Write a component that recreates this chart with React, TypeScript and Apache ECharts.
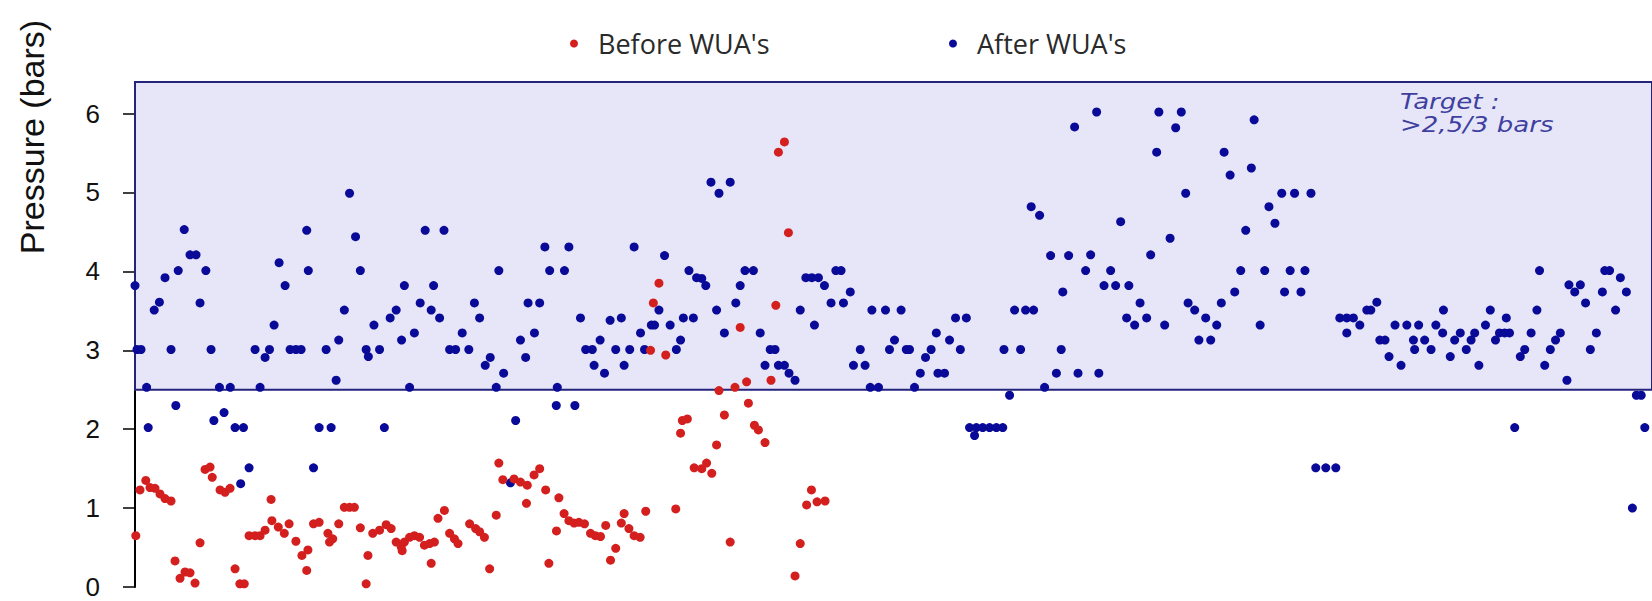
import React, { useEffect, useRef } from "react";
import * as echarts from "echarts";

const seriesNames = ["Before WUA's", "After WUA's"];
const yTicks = [0, 1, 2, 3, 4, 5, 6];
const targetRange = [2.5, 6.4];
const sampleRange = [0, 379];
const targetText = "Target :\n>2,5/3 bars";
const axisTitle = "Pressure (bars)";

// [sample index, pressure in bars]
const beforeWUA: number[][] = [
  [0.2, 0.65], [1.25, 1.23], [2.7, 1.35], [3.75, 1.26], [5, 1.25], [6.25, 1.18], [7.5, 1.12], [9, 1.09],
  [10, 0.33], [11.25, 0.11], [12.5, 0.19], [13.75, 0.18], [15, 0.05], [16.25, 0.56], [17.5, 1.49], [18.75, 1.52],
  [19.3, 1.39], [21.25, 1.23], [22.5, 1.2], [23.75, 1.25], [25, 0.23], [26.2, 0.04], [27.3, 0.04], [28.5, 0.65],
  [30, 0.65], [31.25, 0.65], [32.5, 0.72], [34, 1.11], [34.2, 0.84], [35.8, 0.76], [37.3, 0.68], [38.5, 0.8],
  [40.2, 0.58], [41.7, 0.4], [43.2, 0.47], [42.9, 0.21], [44.6, 0.8],
  [46, 0.82], [48.2, 0.68], [49.4, 0.61], [48.6, 0.57], [50.9, 0.8], [52.3, 1.01], [53.6, 1.01], [54.8, 1.01],
  [56.3, 0.75], [57.75, 0.04], [58.2, 0.4], [59.4, 0.68], [61.1, 0.72], [62.75, 0.79], [64, 0.74], [65.25, 0.57],
  [66.5, 0.51], [66.75, 0.46], [67.3, 0.57], [68.6, 0.63], [69.8, 0.65], [71.1, 0.63], [72.3, 0.53], [73.6, 0.55],
  [74.8, 0.57], [74, 0.3], [75.7, 0.87], [77.3, 0.97], [78.6, 0.68], [79.8, 0.61], [80.7, 0.55], [83.6, 0.8],
  [85.1, 0.74], [86.1, 0.7], [87.3, 0.63], [88.6, 0.23], [90.25, 0.91], [90.9, 1.57], [91.9, 1.36],
  [94.7, 1.37], [96.3, 1.33], [98, 1.29], [99.7, 1.42], [101.1, 1.5], [97.8, 1.06], [102.6, 1.23], [105.9, 1.13],
  [107.2, 0.93], [108.4, 0.84], [109.7, 0.81], [110.9, 0.82], [112.3, 0.8], [105.3, 0.71], [103.4, 0.3],
  [113.8, 0.68], [115, 0.65], [116.3, 0.64], [117.6, 0.78], [118.8, 0.34], [120.1, 0.49], [121.5, 0.81],
  [122.2, 0.93], [123.4, 0.74], [124.7, 0.65], [126.2, 0.63], [127.6, 0.96], [135.1, 0.99], [129.5, 3.6],
  [130.9, 3.85], [128.8, 3.0], [132.6, 2.94], [136.3, 1.95], [136.75, 2.11], [138, 2.13], [139.7, 1.51],
  [141.6, 1.5], [142.8, 1.57], [144.1, 1.44], [160.75, 5.51], [162.25, 5.64], [163.25, 4.49], [160.1, 3.57],
  [151.2, 3.29], [158.9, 2.62], [145.9, 2.49], [149.9, 2.53], [152.8, 2.6], [153.25, 2.33], [147.25, 2.18],
  [154.75, 2.05], [155.75, 1.99], [157.4, 1.83], [145.3, 1.8], [169, 1.23], [167.8, 1.04], [170.4, 1.08],
  [172.4, 1.09], [148.7, 0.57], [166.2, 0.55], [164.9, 0.14],
];

const afterWUA: number[][] = [
  [0, 3.82], [0.5, 3.01], [1.5, 3.01], [2.9, 2.53], [3.3, 2.02], [4.8, 3.51], [6.1, 3.61], [7.5, 3.92], [9, 3.01],
  [10.2, 2.3], [10.8, 4.01], [12.3, 4.53], [13.75, 4.21], [15.25, 4.21], [16.25, 3.6], [17.7, 4.01], [19, 3.01],
  [19.7, 2.11], [21.1, 2.53], [22.25, 2.21], [23.8, 2.53], [25, 2.02], [27.1, 2.02], [26.4, 1.31], [28.5, 1.51],
  [30, 3.01], [31.25, 2.53], [32.5, 2.91], [33.6, 3.01], [34.75, 3.32], [36, 4.11], [37.5, 3.82], [38.75, 3.01],
  [40.2, 3.01], [41.5, 3.01], [42.9, 4.52], [43.3, 4.01],
  [44.6, 1.51], [46, 2.02], [49, 2.02], [47.75, 3.01], [50.25, 2.62], [50.9, 3.13], [52.3, 3.51], [53.6, 4.99],
  [55.1, 4.44], [56.3, 4.01], [57.75, 3.01], [58.3, 2.92], [59.7, 3.32], [61.1, 3.01], [62.3, 2.02], [63.75, 3.41],
  [65.25, 3.51], [66.6, 3.13], [67.3, 3.82], [68.6, 2.53], [69.8, 3.22], [71.25, 3.6], [72.5, 4.52], [74, 3.51],
  [74.6, 3.82], [76.1, 3.41], [77.2, 4.52], [78.6, 3.01], [80.1, 3.01], [81.75, 3.22], [83.4, 3.01], [84.8, 3.6],
  [86.1, 3.41], [87.5, 2.81], [88.75, 2.91], [90.25, 2.53], [90.9, 4.01], [92.1, 2.71],
  [93.8, 1.32], [95.1, 2.11], [96.3, 3.13], [97.6, 2.91], [98.2, 3.6], [101.1, 3.6], [99.8, 3.22], [102.4, 4.31],
  [103.6, 4.01], [105.5, 2.53], [105.25, 2.3], [109.9, 2.3], [107.3, 4.01], [108.4, 4.31], [111.3, 3.41],
  [112.6, 3.01], [114.25, 3.01], [114.7, 2.81], [116.2, 3.13], [117.3, 2.71], [118.7, 3.38], [120.1, 3.01],
  [121.5, 3.41], [122.2, 2.81], [123.6, 3.01], [124.7, 4.31], [126.3, 3.22], [127.3, 3.01], [129, 3.32],
  [129.8, 3.32], [130.9, 3.51], [132.3, 4.2], [133.7, 3.32], [135.25, 3.01], [136.3, 3.13], [137, 3.41],
  [139.5, 3.41], [138.4, 4.01], [140.3, 3.92],
  [141.6, 3.91], [142.6, 3.82], [143.9, 5.13], [148.7, 5.13], [145.9, 4.99], [145.3, 3.51], [147.25, 3.22],
  [150.1, 3.6], [151.2, 3.82], [152.4, 4.01], [154.5, 4.01], [156.2, 3.22], [158.7, 3.01], [159.9, 3.01],
  [157.4, 2.81], [160.75, 2.81], [162.25, 2.81], [163.4, 2.71], [164.9, 2.62], [166.2, 3.51], [167.6, 3.92],
  [169.1, 3.92], [170.75, 3.92], [172.25, 3.82], [169.75, 3.32], [173.9, 3.6], [175.1, 4.01], [176.4, 4.01],
  [177, 3.6], [178.7, 3.74], [181.2, 3.01], [179.5, 2.81], [182.4, 2.81], [184.1, 3.51], [187.5, 3.51],
  [191.4, 3.51], [183.7, 2.53], [185.75, 2.53], [188.5, 3.01], [192.7, 3.01], [193.5, 3.01],
  [189.75, 3.13], [194.75, 2.53], [196.2, 2.71], [197.5, 2.91], [198.9, 3.01], [200.2, 3.22], [200.6, 2.71],
  [202.25, 2.71], [203.5, 3.13], [205, 3.41], [207.7, 3.41], [206.2, 3.01],
  [208.5, 2.02], [210.2, 2.02], [211.8, 2.02], [213.5, 2.02], [215.2, 2.02], [216.8, 2.02], [209.75, 1.92],
  [217.1, 3.01], [218.5, 2.43], [219.75, 3.51], [222.5, 3.51], [224.5, 3.51], [221.25, 3.01], [223.9, 4.82],
  [226, 4.71], [227.25, 2.53], [228.75, 4.2], [233.25, 4.2], [230.2, 2.71], [231.4, 3.01], [231.8, 3.74],
  [234.75, 5.83], [235.6, 2.71],
  [240.8, 2.71], [237.5, 4.01], [238.75, 4.21], [240.25, 6.02], [243.75, 4.01], [242.1, 3.82], [245, 3.82],
  [248.3, 3.82], [246.25, 4.63], [247.75, 3.41], [249.75, 3.32], [251.1, 3.6], [252.75, 3.41], [253.75, 4.21],
  [255.25, 5.51], [255.8, 6.02], [257.25, 3.32], [258.6, 4.42], [260, 5.82], [261.4, 6.02], [262.5, 4.99],
  [263.1, 3.6], [264.75, 3.51], [265.8, 3.13], [268.75, 3.13], [267.5, 3.41], [270.25, 3.32], [271.4, 3.6],
  [272.1, 5.51], [273.6, 5.22], [274.75, 3.74], [276.25, 4.01], [277.5, 4.52], [278.9, 5.31], [279.6, 5.92],
  [281.1, 3.32], [282.25, 4.01], [283.3, 4.82],
  [284.8, 4.61], [286.5, 4.99], [289.7, 4.99], [293.8, 4.99], [288.6, 4.01], [292.3, 4.01], [287.2, 3.74],
  [291.3, 3.74], [295, 1.51], [297.5, 1.51], [300, 1.51],
  [301, 3.41], [302.75, 3.41], [304.4, 3.41], [302.75, 3.22], [306, 3.32], [307.75, 3.51], [308.75, 3.51],
  [310.25, 3.61], [311, 3.13], [312.3, 3.13], [313.3, 2.92], [314.8, 3.32], [317.75, 3.32], [320.7, 3.32],
  [316.3, 2.81], [319.4, 3.13], [322.2, 3.13], [319.7, 3.01], [323.8, 3.01], [325, 3.32], [326.7, 3.22],
  [326.9, 3.51], [328.6, 2.92], [329.7, 3.13], [331.1, 3.22],
  [332.6, 3.01], [333.8, 3.13], [334.7, 3.22], [335.75, 2.81], [337.4, 3.32], [338.6, 3.51], [339.9, 3.13],
  [340.9, 3.22], [342.2, 3.22], [343.4, 3.22], [342.6, 3.41], [346.1, 2.92], [347.2, 3.01], [348.8, 3.22],
  [350.25, 3.51], [350.9, 4.01], [352.2, 2.81], [353.6, 3.01], [354.9, 3.13], [356.1, 3.22], [357.75, 2.62],
  [358.25, 3.83], [359.7, 3.74], [361.1, 3.83], [362.4, 3.6], [363.6, 3.01], [365.1, 3.22], [366.6, 3.74],
  [367.2, 4.01], [368.4, 4.01], [369.9, 3.51], [371.1, 3.92], [372.6, 3.74], [375.1, 2.43], [376.3, 2.43],
  [344.7, 2.02], [377.2, 2.02], [374.1, 1.0],
];

const RED = "#d41f1f";
const BLUE = "#0a0a98";

export default function App() {
  const ref = useRef<HTMLDivElement>(null);

  useEffect(() => {
    if (!ref.current) return;
    const chart = echarts.init(ref.current, null, { renderer: "svg" });
    const legendBase = {
      orient: "horizontal",
      icon: "circle",
      itemWidth: 38,
      itemHeight: 8,
      padding: 0,
      top: 30,
      textStyle: { fontFamily: "Open Sans", fontSize: 27, color: "#2a2a2a" },
    };
    chart.setOption({
      animation: false,
      backgroundColor: "#ffffff",
      grid: { left: 135, right: 0, top: 82, bottom: 14 },
      legend: [
        { ...legendBase, data: [seriesNames[0]], left: 570 },
        { ...legendBase, data: [seriesNames[1]], left: 949 },
      ],
      xAxis: {
        type: "value",
        min: sampleRange[0],
        max: sampleRange[1],
        show: false,
      },
      yAxis: {
        type: "value",
        min: 0,
        max: targetRange[1],
        axisLine: { show: true, lineStyle: { color: "#000", width: 2 } },
        axisTick: {
          show: true,
          length: 12,
          lineStyle: { color: "#000", width: 1.5 },
          customValues: yTicks,
        },
        axisLabel: {
          customValues: yTicks,
          margin: 35,
          fontFamily: "Liberation Sans",
          fontSize: 26,
          color: "#111",
        },
        splitLine: { show: false },
      },
      graphic: [
        {
          type: "text",
          x: 31.5,
          y: 137,
          rotation: Math.PI / 2,
          style: {
            text: axisTitle,
            fontFamily: "Liberation Sans",
            fontSize: 34,
            fill: "#111",
            align: "center",
            verticalAlign: "middle",
            textAlign: "center",
            textVerticalAlign: "middle",
          },
        },
        {
          type: "text",
          x: 1400,
          y: 90,
          scaleX: 1.24,
          z: 100,
          style: {
            text: targetText,
            fontFamily: "DejaVu Sans",
            fontStyle: "italic",
            fontSize: 21,
            lineHeight: 23,
            fill: "#3f3f9f",
            align: "left",
            verticalAlign: "top",
            textAlign: "left",
            textVerticalAlign: "top",
          },
        },
      ],
      series: [
        {
          name: seriesNames[1],
          type: "scatter",
          data: afterWUA,
          symbol: "circle",
          symbolSize: 9,
          itemStyle: { color: BLUE, opacity: 1 },
          clip: false,
          markArea: {
            silent: true,
            itemStyle: { color: "#e6e6f8", borderColor: "#24247c", borderWidth: 2, opacity: 1 },
            data: [
              [
                { xAxis: sampleRange[0], yAxis: targetRange[0] },
                { xAxis: sampleRange[1], yAxis: targetRange[1] },
              ],
            ],
          },
        },
        {
          name: seriesNames[0],
          type: "scatter",
          data: beforeWUA,
          symbol: "circle",
          symbolSize: 9,
          itemStyle: { color: RED, opacity: 1 },
          clip: false,
        },
      ],
    });
    return () => chart.dispose();
  }, []);

  return (
    <div
      ref={ref}
      style={{ position: "absolute", left: 0, top: 0, width: 1652, height: 601 }}
    />
  );
}
